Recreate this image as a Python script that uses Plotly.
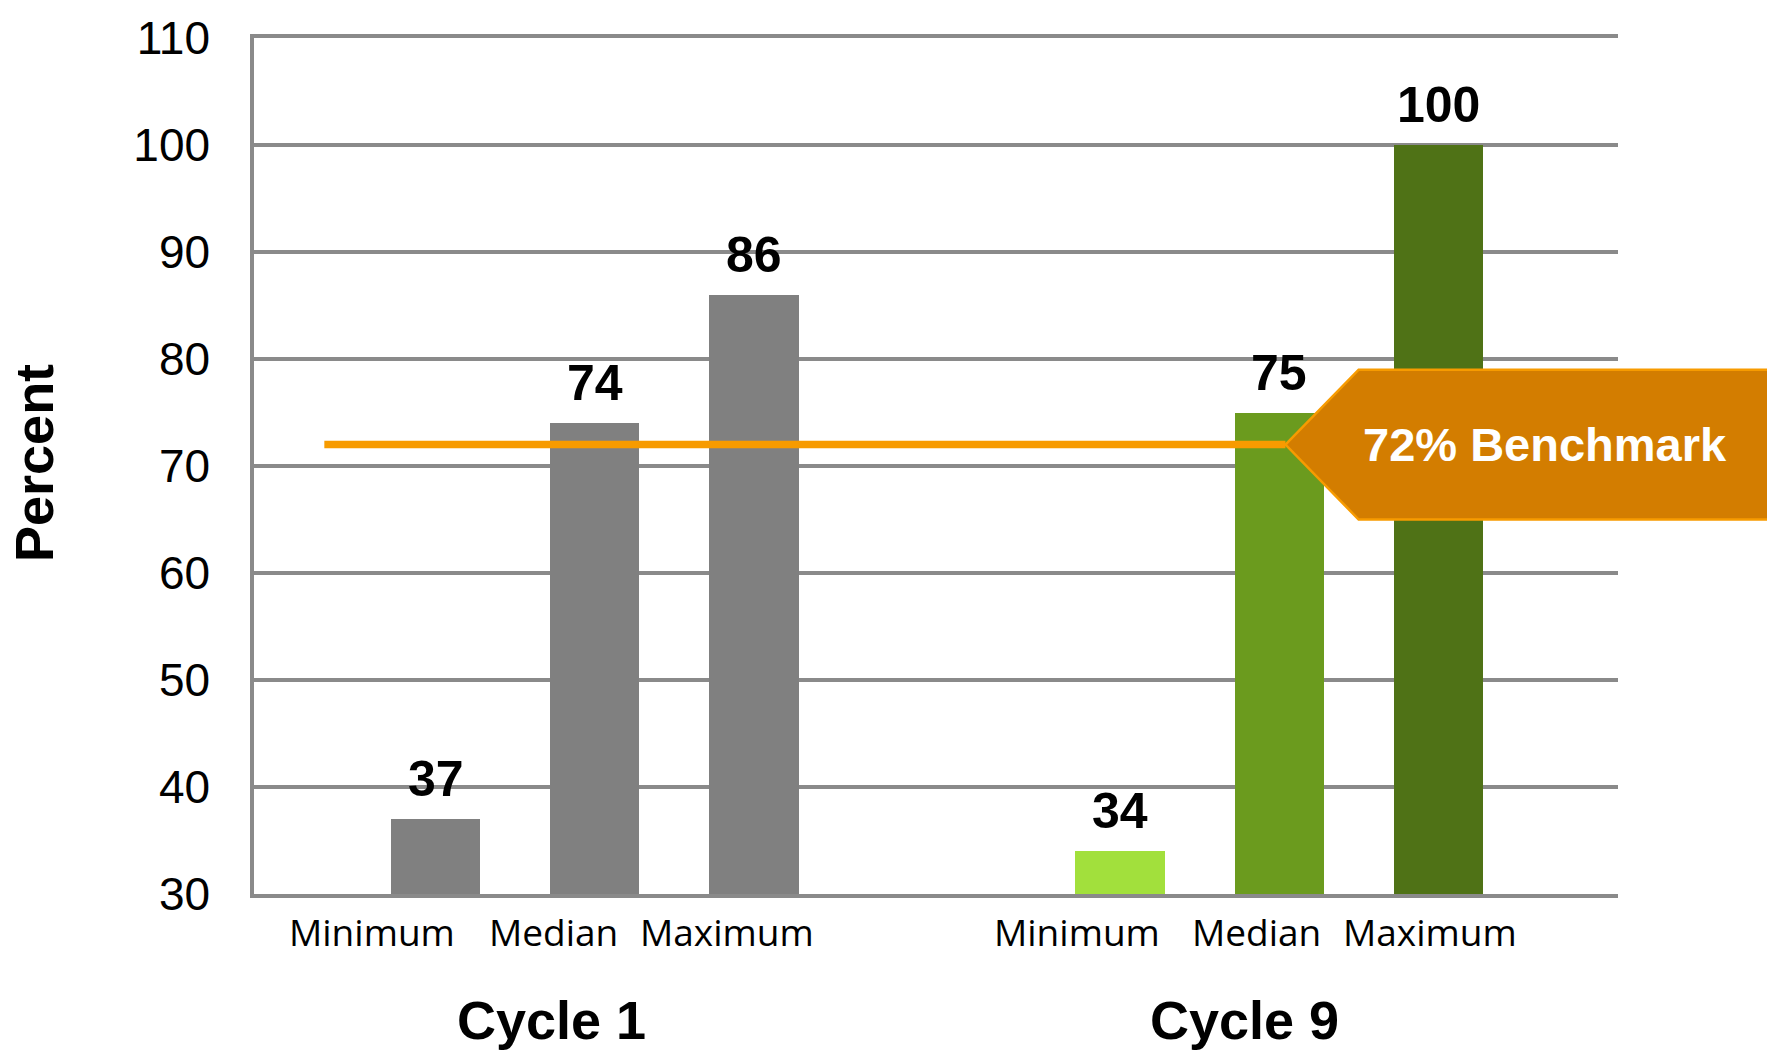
import plotly.graph_objects as go

# ---------------- data ----------------
cycles = ["Cycle 1", "Cycle 9"]
stats = ["Minimum", "Median", "Maximum"]
cycle1_values = [37, 74, 86]
cycle9_values = [34, 75, 100]
benchmark = 72
benchmark_label = "72% Benchmark"
y_ticks = [30, 40, 50, 60, 70, 80, 90, 100, 110]
y_axis_title = "Percent"

# ---------------- styles / layout constants ----------------
cycle1_colors = ["#808080", "#808080", "#808080"]
cycle9_colors = ["#A2E03C", "#6B9B1E", "#4F7216"]
GRID = "#8a8a8a"
ORANGE = "#F79B00"
CALLOUT_FILL = "#D37D00"

W, H = 1767, 1051
ML, MR, MT, MB = 254, 149, 32, 157
X_MIN, X_MAX = -0.142, 8.43
Y_MIN, Y_MAX = 30, 110
GROUP_STEP = 4.3
BAR_W = 0.56
LABEL_SHIFT = [[-0.40, -0.26, -0.17], [-0.27, -0.14, -0.05]]
CYCLE_SHIFT = [0.01, -0.06]
LINE_X0, LINE_X1 = 0.30, 6.34
CALLOUT_SHOULDER_X = 6.80
CALLOUT_RIGHT_X = 9.6
CALLOUT_HALF_H = 7.0
CALLOUT_TEXT_X = 7.97

FONT_SANS = "Liberation Sans, Arial, sans-serif"

def pos(g, j):
    return 1 + g * GROUP_STEP + j

def px(u):
    return (u - X_MIN) / (X_MAX - X_MIN)

def py(v):
    return (v - Y_MIN) / (Y_MAX - Y_MIN)

fig = go.Figure()
series = [cycle1_values, cycle9_values]
colors = [cycle1_colors, cycle9_colors]
for g, (vals, cols) in enumerate(zip(series, colors)):
    fig.add_trace(go.Bar(
        x=[pos(g, j) for j in range(len(stats))],
        y=[v - Y_MIN for v in vals],
        base=Y_MIN,
        width=BAR_W,
        marker=dict(color=cols, line=dict(width=0)),
        name=cycles[g],
        showlegend=False,
        hoverinfo="skip",
    ))

annotations = []
# value labels
for g, vals in enumerate(series):
    for j, v in enumerate(vals):
        annotations.append(dict(
            x=pos(g, j), y=v, xref="x", yref="y", text=str(v),
            showarrow=False, yanchor="bottom", yshift=10,
            font=dict(family=FONT_SANS, size=50, color="black", weight="bold"),
        ))
# category labels
for g in range(len(cycles)):
    xs = []
    for j, s in enumerate(stats):
        x = pos(g, j) + LABEL_SHIFT[g][j]
        xs.append(x)
        annotations.append(dict(
            x=x, y=0, xref="x", yref="paper", text=s, showarrow=False,
            yanchor="middle", yshift=-37,
            font=dict(family="Open Sans, sans-serif", size=37, color="black"),
        ))
    annotations.append(dict(
        x=(xs[0] + xs[-1]) / 2 + CYCLE_SHIFT[g], y=0, xref="x", yref="paper",
        text=cycles[g], showarrow=False, yanchor="middle", yshift=-126,
        font=dict(family=FONT_SANS, size=54, color="black", weight="bold"),
    ))
# y axis title
annotations.append(dict(
    x=0, y=0.5, xref="paper", yref="paper", text=y_axis_title, textangle=-90,
    showarrow=False, xanchor="center", yanchor="middle", xshift=-220, yshift=3,
    font=dict(family=FONT_SANS, size=54, color="black", weight="bold"),
))
# callout text
annotations.append(dict(
    x=px(CALLOUT_TEXT_X), y=py(benchmark), xref="paper", yref="paper",
    text=benchmark_label, showarrow=False, xanchor="center", yanchor="middle",
    font=dict(family=FONT_SANS, size=47, color="white", weight="bold"),
))

shapes = [
    dict(type="line", xref="x", yref="y", x0=LINE_X0, x1=LINE_X1,
         y0=benchmark, y1=benchmark, line=dict(color=ORANGE, width=7.5), layer="above"),
]
tip_x, tip_y = px(LINE_X1), py(benchmark)
sx, rx = px(CALLOUT_SHOULDER_X), px(CALLOUT_RIGHT_X)
top, bot = py(benchmark + CALLOUT_HALF_H), py(benchmark - CALLOUT_HALF_H)
shapes.append(dict(
    type="path", xref="paper", yref="paper",
    path=f"M {tip_x},{tip_y} L {sx},{top} L {rx},{top} L {rx},{bot} L {sx},{bot} Z",
    fillcolor=CALLOUT_FILL, line=dict(color=ORANGE, width=2.5), layer="above",
))

fig.update_layout(
    width=W, height=H,
    margin=dict(l=ML, r=MR, t=MT, b=MB, pad=0),
    paper_bgcolor="white", plot_bgcolor="white",
    bargap=0,
    annotations=annotations,
    shapes=shapes,
    xaxis=dict(range=[X_MIN, X_MAX], showgrid=False, zeroline=False,
               showticklabels=False, ticks="", showline=True, mirror=True,
               linecolor=GRID, linewidth=3.5, layer="below traces",
               fixedrange=True),
    yaxis=dict(range=[Y_MIN, Y_MAX], tickvals=y_ticks, showgrid=True,
               gridcolor=GRID, gridwidth=3.5, zeroline=False,
               showline=True, linecolor=GRID, linewidth=3.5,
               ticks="outside", ticklen=31, tickcolor="rgba(0,0,0,0)",
               tickfont=dict(family=FONT_SANS, size=46, color="black")),
)

fig.write_html("out.html")
